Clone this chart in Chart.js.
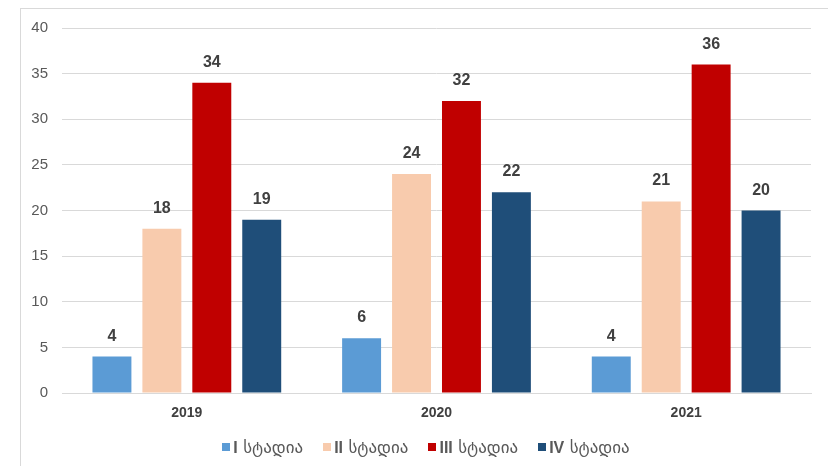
<!DOCTYPE html>
<html lang="ka">
<head>
    <meta charset="UTF-8">
    <title>სტადიები 2019-2021</title>
    <script src="https://cdn.jsdelivr.net/npm/chart.js"></script>
    <style>
        body {
            margin: 0;
            font-family: "Liberation Sans", Arial, sans-serif;
            background: #fff;
        }
        #wrap {
            position: relative;
            width: 828px;
            height: 466px;
            overflow: hidden;
        }
        #frame {
            position: absolute;
            left: 20px;
            top: 8px;
            width: 830px;
            height: 480px;
            border: 1px solid #d9d9d9;
            pointer-events: none;
        }
        #legend {
            position: absolute;
            left: 12px;
            width: 828px;
            top: 437px;
            text-align: center;
            font-size: 17px;
            color: #595959;
            font-family: "DejaVu Sans", sans-serif;
        }
        #legend span.item {
            margin: 0 10px;
            white-space: nowrap;
        }
        #legend span.box {
            display: inline-block;
            width: 8px;
            height: 8px;
            margin-right: 3px;
            vertical-align: 2px;
        }
        #legend b {
            font-family: "Liberation Sans", Arial, sans-serif;
            font-size: 16px;
        }
    </style>
</head>
<body>
    <div id="wrap">
        <canvas id="stageChart" width="828" height="466"></canvas>
        <div id="frame"></div>
        <div id="legend"></div>
    </div>

    <script>
        const years = ['2019', '2020', '2021'];
        const romanNums = ['I', 'II', 'III', 'IV'];
        const stageWord = 'სტადია';
        const stage1 = [4, 6, 4];
        const stage2 = [18, 24, 21];
        const stage3 = [34, 32, 36];
        const stage4 = [19, 22, 20];
        const colors = ['#5b9bd5', '#f8cbad', '#c00000', '#1f4e79'];

        const series = [stage1, stage2, stage3, stage4];

        // numbers over the bars
        const valueLabels = {
            id: 'valueLabels',
            afterDatasetsDraw(chart) {
                const ctx = chart.ctx;
                ctx.save();
                ctx.font = 'bold 16px "Liberation Sans", Arial, sans-serif';
                ctx.fillStyle = '#404040';
                ctx.textAlign = 'center';
                ctx.textBaseline = 'alphabetic';
                chart.data.datasets.forEach((ds, i) => {
                    chart.getDatasetMeta(i).data.forEach((bar, j) => {
                        ctx.fillText(ds.data[j], bar.x, bar.y - 16);
                    });
                });
                ctx.restore();
            }
        };

        const ctx = document.getElementById('stageChart').getContext('2d');
        new Chart(ctx, {
            type: 'bar',
            data: {
                labels: years,
                datasets: series.map((d, i) => ({
                    label: romanNums[i] + ' ' + stageWord,
                    data: d,
                    backgroundColor: colors[i],
                    barPercentage: 0.78,
                    categoryPercentage: 0.8
                }))
            },
            options: {
                responsive: false,
                animation: false,
                layout: { padding: { left: 20, right: 17, top: 28, bottom: 0 } },
                plugins: {
                    legend: { display: false },
                    tooltip: { enabled: false }
                },
                scales: {
                    x: {
                        grid: { display: false },
                        border: { color: '#d9d9d9' },
                        ticks: {
                            color: '#404040',
                            font: { size: 14, weight: 'bold', family: '"Liberation Sans", Arial, sans-serif' },
                            padding: 4
                        },
                        afterFit(axis) { axis.height = 73; }
                    },
                    y: {
                        min: 0,
                        max: 40,
                        ticks: {
                            stepSize: 5,
                            color: '#595959',
                            font: { size: 15, family: '"Liberation Sans", Arial, sans-serif' },
                            padding: 14
                        },
                        grid: { color: '#d9d9d9', drawTicks: false },
                        border: { display: false },
                        afterFit(axis) { axis.width = 42; }
                    }
                }
            },
            plugins: [valueLabels]
        });

        const legend = document.getElementById('legend');
        romanNums.forEach((r, i) => {
            const item = document.createElement('span');
            item.className = 'item';
            item.innerHTML = '<span class="box" style="background:' + colors[i] + '"></span><b>' + r + '</b> ' + stageWord;
            legend.appendChild(item);
        });
    </script>
</body>
</html>
